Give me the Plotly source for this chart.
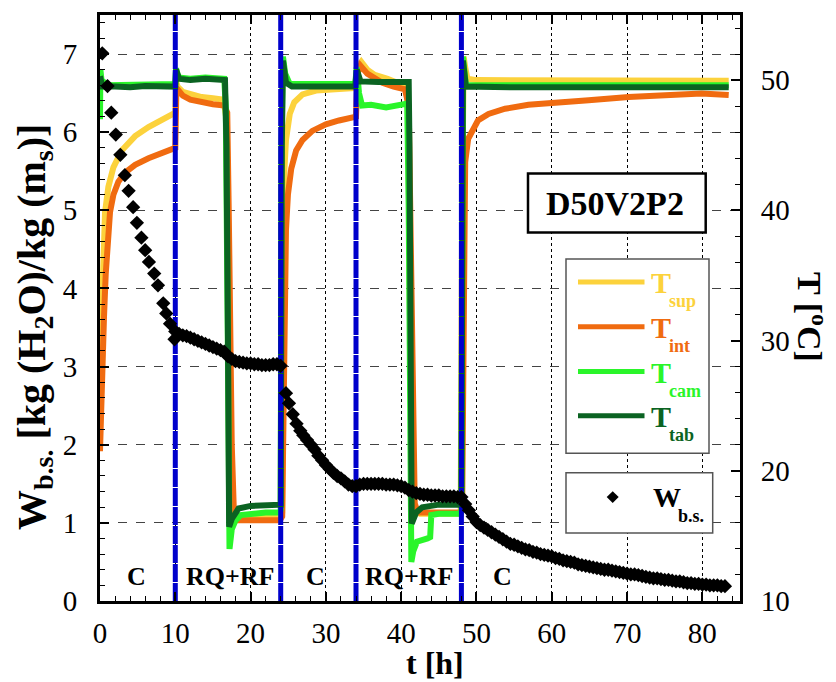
import plotly.graph_objects as go

# ---------------- data ----------------
# dry-basis moisture content W_b.s. [kg H2O / kg dry solid] vs time [h]
w_time = [0.3, 1.0, 1.5, 2.1, 2.7, 3.3, 3.8, 4.4, 4.9, 5.5, 6.0, 6.5, 7.2, 7.7, 8.4, 8.8, 9.3, 9.9,
          10.0, 10.5, 11.0, 11.5, 12.0, 12.5, 13.0, 13.5, 14.0, 14.5, 15.0, 15.5, 16.0, 16.5,
          17.0, 17.5, 18.0, 18.5, 19.0, 19.5, 20.0, 20.5, 21.0, 21.5, 22.0, 22.5, 23.0, 23.5, 24.0,
          24.7, 25.1, 25.6, 26.1, 26.6,
          27.0, 27.5, 28.0, 28.5, 29.0, 29.5, 30.0, 30.5, 31.0, 31.5, 32.0, 32.5, 33.0, 33.5,
          34.0, 34.5, 35.0, 35.5, 36.0, 36.5, 37.0, 37.5, 38.0, 38.5, 39.0, 39.5, 40.0, 40.5,
          41.0, 41.5, 42.0, 42.5, 43.0, 43.5, 44.0, 44.5, 45.0, 45.5, 46.0, 46.5, 47.0, 47.5,
          48.0, 48.5, 49.0, 49.5, 50.0, 50.5, 51.0, 51.5, 52.0, 52.5, 53.0, 53.5, 54.0, 54.5,
          55.0, 55.5, 56.0, 56.5, 57.0, 57.5, 58.0, 58.5, 59.0, 59.5, 60.0, 60.5, 61.0, 61.5,
          62.0, 62.5, 63.0, 63.5, 64.0, 64.5, 65.0, 65.5, 66.0, 66.5, 67.0, 67.5, 68.0, 68.5,
          69.0, 69.5, 70.0, 70.5, 71.0, 71.5, 72.0, 72.5, 73.0, 73.5, 74.0, 74.5, 75.0, 75.5,
          76.0, 76.5, 77.0, 77.5, 78.0, 78.5, 79.0, 79.5, 80.0, 80.5, 81.0, 81.5, 82.0, 82.5, 83.0]
w_bs = [7.01, 6.59, 6.25, 5.97, 5.71, 5.45, 5.25, 5.04, 4.84, 4.65, 4.49, 4.34, 4.19, 4.04, 3.81, 3.68, 3.55, 3.35,
        3.45, 3.42, 3.40, 3.39, 3.37, 3.35, 3.33, 3.31, 3.29, 3.27, 3.25, 3.23, 3.21, 3.19,
        3.13, 3.10, 3.07, 3.06, 3.05, 3.04, 3.04, 3.03, 3.03, 3.02, 3.02, 3.02, 3.03, 3.03, 3.01,
        2.66, 2.53, 2.39, 2.27, 2.18,
        2.12, 2.06, 2.00, 1.94, 1.86, 1.80, 1.74, 1.69, 1.64, 1.60, 1.57, 1.53, 1.49, 1.47,
        1.47, 1.49, 1.50, 1.50, 1.50, 1.50, 1.50, 1.50, 1.49, 1.49, 1.49, 1.48, 1.47, 1.45,
        1.42, 1.40, 1.38, 1.37, 1.36, 1.36, 1.35, 1.35, 1.35, 1.34, 1.34, 1.34, 1.34, 1.33,
        1.33, 1.24, 1.16, 1.08, 1.01, 0.97, 0.94, 0.91, 0.88, 0.85, 0.82, 0.79, 0.76, 0.73,
        0.72, 0.70, 0.68, 0.66, 0.65, 0.63, 0.62, 0.60, 0.59, 0.58, 0.57, 0.55, 0.54, 0.52,
        0.51, 0.50, 0.49, 0.47, 0.46, 0.45, 0.44, 0.43, 0.42, 0.41, 0.40, 0.40, 0.39, 0.38,
        0.37, 0.36, 0.35, 0.34, 0.34, 0.33, 0.32, 0.31, 0.30, 0.29, 0.29, 0.28, 0.27, 0.27,
        0.26, 0.25, 0.25, 0.24, 0.23, 0.23, 0.22, 0.22, 0.21, 0.21, 0.20, 0.20, 0.20, 0.19, 0.19]

# surface temperature T_sup [degC]
tsup_time = [0, 0.22, 0.44, 0.67, 1.11, 1.78, 2.89, 4.67, 6.44, 8.22, 9.69, 10.0,
             10.1, 10.3, 11, 12, 13.5, 15, 16.4, 16.8, 17.0, 17.2, 17.4, 17.7, 18.5, 20, 22, 23.9,
             24.2, 24.3, 24.4, 24.5, 24.7, 25.2, 25.8, 26.9, 28.7, 31.3, 33.7, 34.0,
             34.2, 34.7, 35.5, 36.5, 38.2, 39.5, 40.8, 41.0, 41.2, 41.4, 41.7, 42.5, 44, 46, 47.9,
             48.1, 48.3, 48.5, 48.8, 50, 55, 60, 65, 70, 75, 80, 83.5]
tsup = [27.9, 33.5, 37.3, 39.85, 41.8, 43.3, 44.6, 45.7, 46.4, 46.9, 47.4, 47.5,
        49.9, 49.5, 49.1, 48.9, 48.7, 48.6, 48.5, 47.0, 35.0, 22.0, 17.5, 16.6, 16.5, 16.5, 16.5, 16.5,
        16.8, 30.7, 39.0, 43.2, 45.4, 47.4, 48.3, 48.9, 49.2, 49.3, 49.4, 49.4,
        51.0, 51.4, 50.8, 50.4, 50.1, 49.8, 49.7, 45.0, 30.0, 20.0, 17.0, 16.7, 16.7, 16.7, 16.7,
        40.0, 51.8, 51.0, 50.1, 50.0, 50.0, 50.05, 50.0, 50.0, 50.0, 50.0, 49.95]

# internal temperature T_int [degC]
tint_time = [0, 0.13, 0.31, 0.53, 0.76, 1.02, 1.33, 1.78, 2.44, 3.33, 4.67, 6.44, 8.22, 9.69, 10.0,
             10.15, 10.4, 11, 12, 13.5, 15, 16.5, 16.9, 17.1, 17.3, 17.5, 17.8, 18.2, 20, 22, 23.9,
             24.2, 24.4, 24.5, 24.7, 24.96, 25.4, 26.05, 26.9, 28.2, 30.0, 31.75, 33.7, 34.0,
             34.2, 34.6, 35.5, 36.5, 37.5, 39, 40.5, 41.0, 41.2, 41.5, 41.8, 42.2, 44, 46, 47.9,
             48.1, 48.25, 48.4, 48.5, 48.9, 49.6, 50.2, 51.6, 53.8, 56.9, 60, 64.9, 70.2, 75.5, 79.9, 83.5]
tint = [21.5, 25.1, 28.5, 31.8, 35.1, 37.6, 39.85, 41.2, 42.2, 42.9, 43.5, 44.0, 44.4, 44.7, 44.8,
        49.4, 49.2, 48.8, 48.5, 48.3, 48.15, 48.05, 47.5, 40.0, 30.0, 22.0, 16.5, 16.2, 16.2, 16.2, 16.2,
        16.5, 25.1, 33.5, 38.5, 41.2, 43.2, 44.6, 45.4, 46.1, 46.6, 46.9, 47.1, 47.2,
        50.5, 51.1, 50.5, 50.1, 49.8, 49.5, 49.3, 48.0, 40.0, 25.0, 17.5, 16.8, 16.8, 16.8, 16.8,
        17.0, 30.0, 38.0, 43.7, 45.5, 46.4, 46.9, 47.4, 47.8, 48.1, 48.2, 48.46, 48.7, 48.9, 48.97, 48.85]

# chamber air temperature T_cam [degC]
tcam_time = [0, 0.05, 0.2, 1, 3, 5, 7, 9, 10.0,
             10.1, 10.4, 12, 14, 16.5, 16.7, 16.9, 17.05, 17.2, 17.5, 18, 18.7, 20, 22, 23.9,
             24.0, 24.1, 24.3, 24.6, 25.2, 27, 30, 33.9,
             34.1, 34.4, 34.8, 36, 38, 40, 40.8, 41.0, 41.2, 41.35, 41.6, 42.1, 43.5, 43.85, 44.0, 45, 47.9,
             48.0, 48.2, 48.6, 55, 65, 75, 83.5]
tcam = [47.0, 50.8, 50.0, 49.6, 49.6, 49.7, 49.6, 49.7, 49.7,
        50.9, 50.2, 50.1, 50.2, 50.1, 48.0, 35.0, 20.0, 14.0, 15.5, 16.2, 16.6, 16.7, 16.8, 16.8,
        17.0, 45.0, 51.8, 50.5, 49.7, 49.7, 49.7, 49.7,
        51.0, 49.0, 48.05, 48.1, 47.9, 48.1, 48.2, 40.0, 20.0, 13.0, 13.8, 14.55, 14.8, 14.9, 16.6, 16.7, 16.7,
        17.0, 51.8, 49.6, 49.6, 49.6, 49.6, 49.6]

# tray temperature T_tab [degC]
ttab_time = [0, 0.3, 2, 4, 6, 8, 10.0,
             10.1, 10.5, 12, 14, 16.6, 16.8, 17.0, 17.15, 17.5, 18.4, 20, 22, 23.9,
             24.0, 24.15, 24.3, 24.7, 25.5, 28, 31, 33.9,
             34.1, 34.6, 37, 39, 41.0, 41.1, 41.3, 41.4, 42, 42.8, 45, 47.9,
             48.0, 48.2, 48.6, 55, 65, 75, 83.5]
ttab = [50.3, 49.5, 49.5, 49.45, 49.55, 49.5, 49.5,
        50.8, 50.1, 50.0, 50.1, 50.0, 45.0, 30.0, 15.7, 16.3, 17.1, 17.3, 17.4, 17.4,
        17.4, 45.0, 51.5, 49.8, 49.5, 49.5, 49.5, 49.5,
        50.8, 49.9, 49.85, 49.9, 49.85, 45.0, 25.0, 15.95, 16.8, 17.2, 17.4, 17.4,
        17.4, 51.5, 49.5, 49.45, 49.45, 49.45, 49.45]

# stage boundaries [h] and stage labels
stage_bounds = [10, 24, 34, 48]
stage_names = ["C", "RQ+RF", "C", "RQ+RF", "C"]
stage_label_t = [4.85, 17.3, 28.6, 41.0, 53.4]

temp_names = ["sup", "int", "cam", "tab"]
temp_colors = ["#FCD23C", "#F06B10", "#2AF52A", "#0B6322"]

# ---------------- figure ----------------
SERIF = "Liberation Serif"
fig = go.Figure()

temp_series = [(tsup_time, tsup), (tint_time, tint), (tcam_time, tcam), (ttab_time, ttab)]
for (tt, vv), col in zip(temp_series, temp_colors):
    fig.add_trace(go.Scatter(x=tt, y=vv, mode="lines", yaxis="y",
                             line=dict(color=col, width=6), showlegend=False, hoverinfo="skip"))

for b in stage_bounds:
    fig.add_trace(go.Scatter(x=[b, b], y=[0, 7.5], mode="lines", yaxis="y2",
                             line=dict(color="#0000CC", width=5, dash="18px,1px"),
                             showlegend=False, hoverinfo="skip"))

fig.add_trace(go.Scatter(x=w_time, y=w_bs, mode="markers", yaxis="y2",
                         marker=dict(symbol="diamond", size=11, color="black", line=dict(width=0)),
                         showlegend=False))

# pixel -> paper helpers for the plot frame (x 100..740, y 12.7..601)
def px(xp):
    return (xp - 100) / 640.0


def py(yp):
    return (601 - yp) / 588.3


shapes = []
annotations = []

# sample box label
shapes.append(dict(type="rect", xref="paper", yref="paper", x0=px(528), x1=px(705.7),
                   y0=py(231), y1=py(171.7), line=dict(color="black", width=2.5),
                   fillcolor="white", layer="above"))
annotations.append(dict(xref="paper", yref="paper", x=px(615), y=py(202), text="<b>D50V2P2</b>",
                        showarrow=False, font=dict(family=SERIF, size=34, color="black"),
                        xanchor="center", yanchor="middle"))

# temperature key
shapes.append(dict(type="rect", xref="paper", yref="paper", x0=px(566), x1=px(709),
                   y0=py(452.7), y1=py(257.7), line=dict(color="#555555", width=1.5),
                   fillcolor="white", layer="above"))
key_y = [280.7, 325.7, 370.7, 415.0]
for name, col, ky in zip(temp_names, temp_colors, key_y):
    shapes.append(dict(type="line", xref="paper", yref="paper", x0=px(578), x1=px(644.5),
                       y0=py(ky), y1=py(ky), line=dict(color=col, width=5), layer="above"))
    annotations.append(dict(xref="paper", yref="paper", x=px(649), y=py(ky + 1), text="<b>T</b>",
                            showarrow=False, font=dict(family=SERIF, size=30, color=col),
                            xanchor="left", yanchor="middle"))
    annotations.append(dict(xref="paper", yref="paper", x=px(667), y=py(ky + 19), text="<b>%s</b>" % name,
                            showarrow=False, font=dict(family=SERIF, size=18, color=col),
                            xanchor="left", yanchor="middle"))

# moisture key
shapes.append(dict(type="rect", xref="paper", yref="paper", x0=px(566), x1=px(712.7),
                   y0=py(532.7), y1=py(472.3), line=dict(color="#555555", width=1.5),
                   fillcolor="white", layer="above"))
dx, dy = 6.0, 6.0
cx, cy = 612.7, 496.7
shapes.append(dict(type="path", xref="paper", yref="paper",
                   path="M %f %f L %f %f L %f %f L %f %f Z" % (px(cx - dx), py(cy), px(cx), py(cy - dy),
                                                            px(cx + dx), py(cy), px(cx), py(cy + dy)),
                   fillcolor="black", line=dict(color="black", width=0), layer="above"))
annotations.append(dict(xref="paper", yref="paper", x=px(651), y=py(497), text="<b>W</b>",
                        showarrow=False, font=dict(family=SERIF, size=28, color="black"),
                        xanchor="left", yanchor="middle"))
annotations.append(dict(xref="paper", yref="paper", x=px(676), y=py(516), text="<b>b.s.</b>",
                        showarrow=False, font=dict(family=SERIF, size=18, color="black"),
                        xanchor="left", yanchor="middle"))

# stage labels
for name, t in zip(stage_names, stage_label_t):
    annotations.append(dict(xref="x", yref="y2", x=t, y=0.32, text="<b>%s</b>" % name,
                            showarrow=False, font=dict(family=SERIF, size=26, color="black"),
                            xanchor="center", yanchor="middle"))

# axis titles
annotations.append(dict(xref="paper", yref="paper", x=px(435), y=py(663), text="<b>t [h]</b>",
                        showarrow=False, font=dict(family=SERIF, size=32, color="black"),
                        xanchor="center", yanchor="middle"))
annotations.append(dict(xref="paper", yref="paper", x=px(34), y=py(326),
                        text="<b>W<sub>b.s.</sub> [kg (H<sub>2</sub>O)/kg (m<sub>s</sub>)]</b>",
                        showarrow=False, textangle=-90, font=dict(family=SERIF, size=40, color="black"),
                        xanchor="center", yanchor="middle"))
annotations.append(dict(xref="paper", yref="paper", x=px(812), y=py(316),
                        text="<b>T [<sup>o</sup>C]</b>",
                        showarrow=False, textangle=90, font=dict(family=SERIF, size=34, color="black"),
                        xanchor="center", yanchor="middle"))

tickfont = dict(family=SERIF, size=29, color="black")
fig.update_layout(
    width=836, height=682,
    margin=dict(l=100, r=96, t=13, b=81),
    paper_bgcolor="white", plot_bgcolor="white",
    showlegend=False,
    shapes=shapes, annotations=annotations,
    xaxis=dict(range=[0, 85], tick0=0, dtick=10, ticks="inside", ticklen=9, tickwidth=1.5,
               tickcolor="black", showline=True, linecolor="black", linewidth=3, mirror="ticks",
               showgrid=True, gridcolor="black", gridwidth=1, griddash="dot", zeroline=False,
               tickfont=tickfont, ticklabelstandoff=4,
               minor=dict(dtick=2, ticks="inside", ticklen=5, tickwidth=1.2, tickcolor="black", showgrid=False)),
    yaxis=dict(range=[10, 55], tick0=10, dtick=10, side="right", ticks="inside", ticklen=9, tickwidth=1.5,
               tickcolor="black", showline=True, linecolor="black", linewidth=3,
               showgrid=False, zeroline=False, tickfont=tickfont, ticklabelstandoff=12,
               minor=dict(dtick=2, ticks="inside", ticklen=5, tickwidth=1.2, tickcolor="black", showgrid=False)),
    yaxis2=dict(range=[0, 7.5], tick0=0, dtick=1, side="left", overlaying="y", ticks="inside", ticklen=9,
                tickwidth=1.5, tickcolor="black", showline=True, linecolor="black", linewidth=3,
                showgrid=True, gridcolor="#444444", gridwidth=1, griddash="dash", zeroline=False,
                tickfont=tickfont, ticklabelstandoff=14,
                minor=dict(dtick=0.2, ticks="inside", ticklen=5, tickwidth=1.2, tickcolor="black", showgrid=False)),
)

fig.write_html("out.html")
